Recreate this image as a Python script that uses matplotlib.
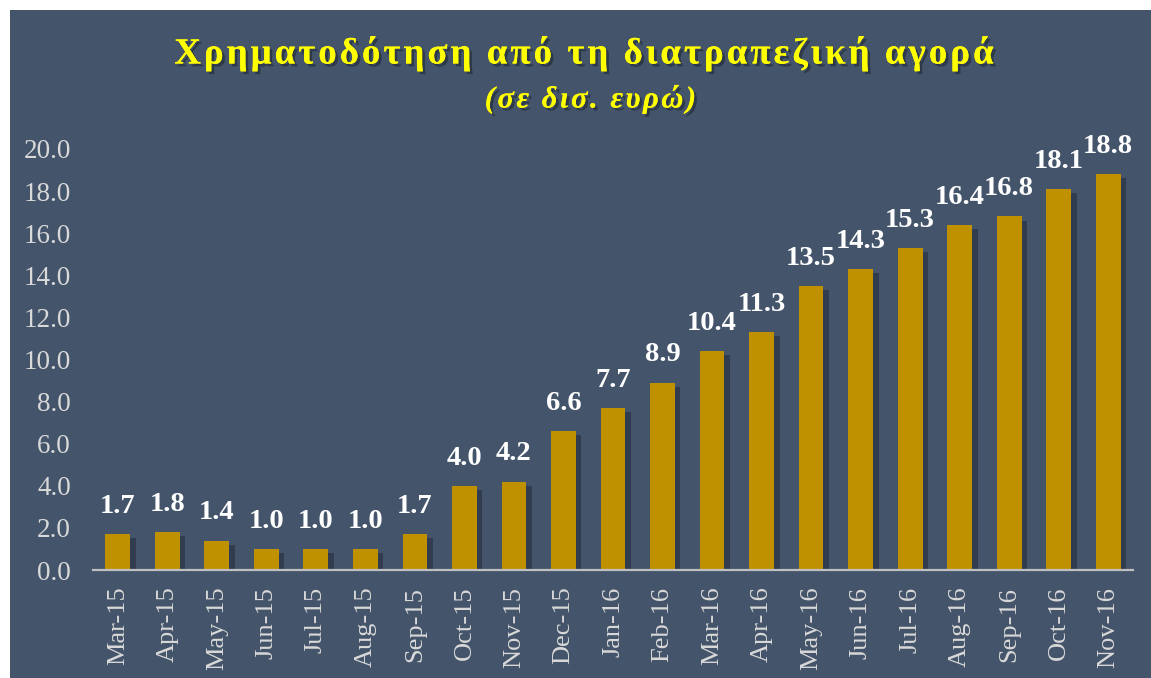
import numpy as np
import matplotlib.pyplot as plt
import matplotlib.patheffects as pe
from matplotlib.patches import Rectangle

months = ['Mar-15', 'Apr-15', 'May-15', 'Jun-15', 'Jul-15', 'Aug-15', 'Sep-15',
          'Oct-15', 'Nov-15', 'Dec-15', 'Jan-16', 'Feb-16', 'Mar-16', 'Apr-16',
          'May-16', 'Jun-16', 'Jul-16', 'Aug-16', 'Sep-16', 'Oct-16', 'Nov-16']
values = [1.7, 1.8, 1.4, 1.0, 1.0, 1.0, 1.7, 4.0, 4.2, 6.6, 7.7, 8.9,
          10.4, 11.3, 13.5, 14.3, 15.3, 16.4, 16.8, 18.1, 18.8]
yticks = np.arange(0, 21, 2)

title = 'Χρηματοδότηση από τη διατραπεζική αγορά'
subtitle = '(σε δισ. ευρώ)'

bg = '#44546A'
gold = '#BF9000'
yellow = '#FFFF00'
grey = '#D9D9D9'
serif = ['Liberation Serif', 'DejaVu Serif']

fig = plt.figure(figsize=(11.51, 6.78), dpi=100, facecolor='white')
fig.patches.append(Rectangle((10 / 1151, 0), 1 - 10 / 1151, 668 / 678,
                             transform=fig.transFigure, facecolor=bg,
                             edgecolor='none', zorder=-5))

ax = fig.add_axes([93 / 1151, 108 / 678, 1040 / 1151, 421 / 678])
ax.set_facecolor('none')
ax.set_zorder(2)

x = np.arange(len(months))
shadow = [pe.withSimplePatchShadow(offset=(4, -3), shadow_rgbFace='#1f2733', alpha=0.5),
          pe.Normal()]
bars = ax.bar(x, values, width=0.5, color=gold, zorder=3)
for b in bars:
    b.set_path_effects(shadow)

for xi, v in zip(x, values):
    ax.annotate(f'{v:.1f}', (xi, v), xytext=(0, 11), textcoords='offset points',
                ha='center', va='bottom', color='white', fontsize=20.5,
                fontweight='bold', family=serif, annotation_clip=False, zorder=5)

ax.set_xlim(-0.5, len(months) - 0.5)
ax.set_ylim(0, 20)
ax.set_yticks(yticks)
ax.set_yticklabels([f'{t:.1f}' for t in yticks])
ax.set_xticks(x)
ax.set_xticklabels(months, rotation=90)
ax.tick_params(axis='y', length=0, pad=16, labelsize=19.5, labelcolor=grey)
ax.tick_params(axis='x', length=0, pad=12, labelsize=19, labelcolor=grey)
for lab in ax.get_xticklabels() + ax.get_yticklabels():
    lab.set_family(serif)

for s in ['top', 'right', 'left']:
    ax.spines[s].set_visible(False)
ax.spines['bottom'].set_color('#BFBFBF')
ax.spines['bottom'].set_linewidth(1.6)
ax.spines['bottom'].set_zorder(4)

tshadow = [pe.withSimplePatchShadow(offset=(2, -2), shadow_rgbFace='#1f2733', alpha=0.6), pe.Normal()]
fig.text(585 / 1151, 1 - 53 / 678, '\u200a'.join(title), ha='center', va='center',
         color=yellow, fontsize=26.5, fontweight='bold', family=serif,
         path_effects=tshadow)
fig.text(590 / 1151, 1 - 99 / 678, '\u200a'.join(subtitle), ha='center', va='center',
         color=yellow, fontsize=22, fontweight='bold', style='italic', family=serif,
         path_effects=tshadow)

fig.savefig('out.png', dpi=100, facecolor=fig.get_facecolor())
